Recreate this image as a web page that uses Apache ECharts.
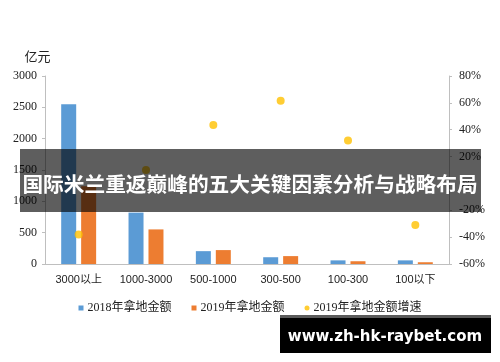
<!DOCTYPE html>
<html><head><meta charset="utf-8">
<script src="https://cdn.jsdelivr.net/npm/echarts@6/dist/echarts.min.js"></script>
<style>html,body{margin:0;padding:0;background:#fff}#c{width:500px;height:362px}</style>
</head><body><div id="c"></div>
<script>
var categories = ['3000以上', '1000-3000', '500-1000', '300-500', '100-300', '100以下'];
var amount2018 = [2550, 820, 205, 108, 58, 58];
var amount2019 = [1240, 552, 222, 126, 44, 28];
var growth2019 = [-38, 10, 43.5, 61.5, 32, -31];
var leftTicks = {min: 0, max: 3000, interval: 500};
var rightTicks = {min: -60, max: 80, interval: 20};
var seriesNames = ['2018年拿地金额', '2019年拿地金额', '2019年拿地金额增速'];
var bannerTitle = '国际米兰重返巅峰的五大关键因素分析与战略布局';
var watermark = 'www.zh-hk-raybet.com';

var serif = '"Liberation Serif", "Noto Sans CJK SC", serif';
var sans = '"Liberation Sans", "Noto Sans CJK SC", sans-serif';
var chart = echarts.init(document.getElementById('c'), null, {renderer: 'canvas'});
chart.setOption({
  animation: false,
  backgroundColor: '#fff',
  grid: {left: 45, right: 51, top: 76, bottom: 98},
  legend: {
    bottom: 43, left: 'center', itemWidth: 5, itemHeight: 5, itemGap: 20,
    textStyle: {fontFamily: serif, fontSize: 12, color: '#222', padding: [0, 0, 0, -1]},
    data: [
      {name: seriesNames[0], icon: 'rect'},
      {name: seriesNames[1], icon: 'rect'},
      {name: seriesNames[2], icon: 'circle'}
    ]
  },
  xAxis: {
    type: 'category', data: categories,
    axisLine: {lineStyle: {color: '#bfbfbf'}},
    axisTick: {show: false},
    axisLabel: {interval: 0, fontFamily: sans, fontSize: 11, color: '#222', margin: 10}
  },
  yAxis: [
    {
      type: 'value', min: leftTicks.min, max: leftTicks.max, interval: leftTicks.interval,
      name: '亿元', nameLocation: 'end', nameGap: 12,
      nameTextStyle: {fontFamily: sans, fontSize: 13, color: '#222', align: 'center', padding: [0, 0, 0, -15]},
      axisLine: {show: true, lineStyle: {color: '#bfbfbf'}},
      axisTick: {show: true, length: 3, lineStyle: {color: '#bfbfbf'}},
      splitLine: {show: false},
      axisLabel: {fontFamily: serif, fontSize: 12, color: '#222', margin: 8,
                  formatter: function (v) { return String(v); }}
    },
    {
      type: 'value', min: rightTicks.min, max: rightTicks.max, interval: rightTicks.interval,
      position: 'right',
      axisLine: {show: true, lineStyle: {color: '#bfbfbf'}},
      axisTick: {show: true, length: 3, lineStyle: {color: '#bfbfbf'}},
      splitLine: {show: false},
      axisLabel: {fontFamily: serif, fontSize: 12, color: '#222', margin: 10,
                  formatter: function (v) { return v + '%'; }}
    }
  ],
  series: [
    {name: seriesNames[0], type: 'bar', data: amount2018, barWidth: 15, barGap: '33%',
     itemStyle: {color: '#5b9bd5'}},
    {name: seriesNames[1], type: 'bar', data: amount2019, barWidth: 15, barGap: '33%',
     itemStyle: {color: '#ed7d31'}},
    {name: seriesNames[2], type: 'scatter', yAxisIndex: 1, data: growth2019, symbolSize: 8,
     itemStyle: {color: '#ffc000'}}
  ],
  graphic: [
    {type: 'rect', z: 100, shape: {x: 20, y: 149, width: 461, height: 63},
     style: {fill: 'rgba(0,0,0,0.63)'}},
    {type: 'text', z: 101, x: 250, y: 184,
     style: {text: bannerTitle, fill: '#fff', font: 'bold 20.7px "Noto Sans CJK SC", sans-serif',
             textAlign: 'center', textVerticalAlign: 'middle'}},
    {type: 'rect', z: 100, shape: {x: 280, y: 315, width: 211, height: 38}, style: {fill: '#000'}},
    {type: 'rect', z: 101, shape: {x: 280, y: 315, width: 211, height: 3}, style: {fill: '#5a5a5a'}},
    {type: 'text', z: 102, x: 385, y: 337,
     style: {text: watermark, fill: '#fff', font: 'bold 15px "DejaVu Sans", sans-serif',
             textAlign: 'center', textVerticalAlign: 'middle'}}
  ]
});
</script></body></html>
